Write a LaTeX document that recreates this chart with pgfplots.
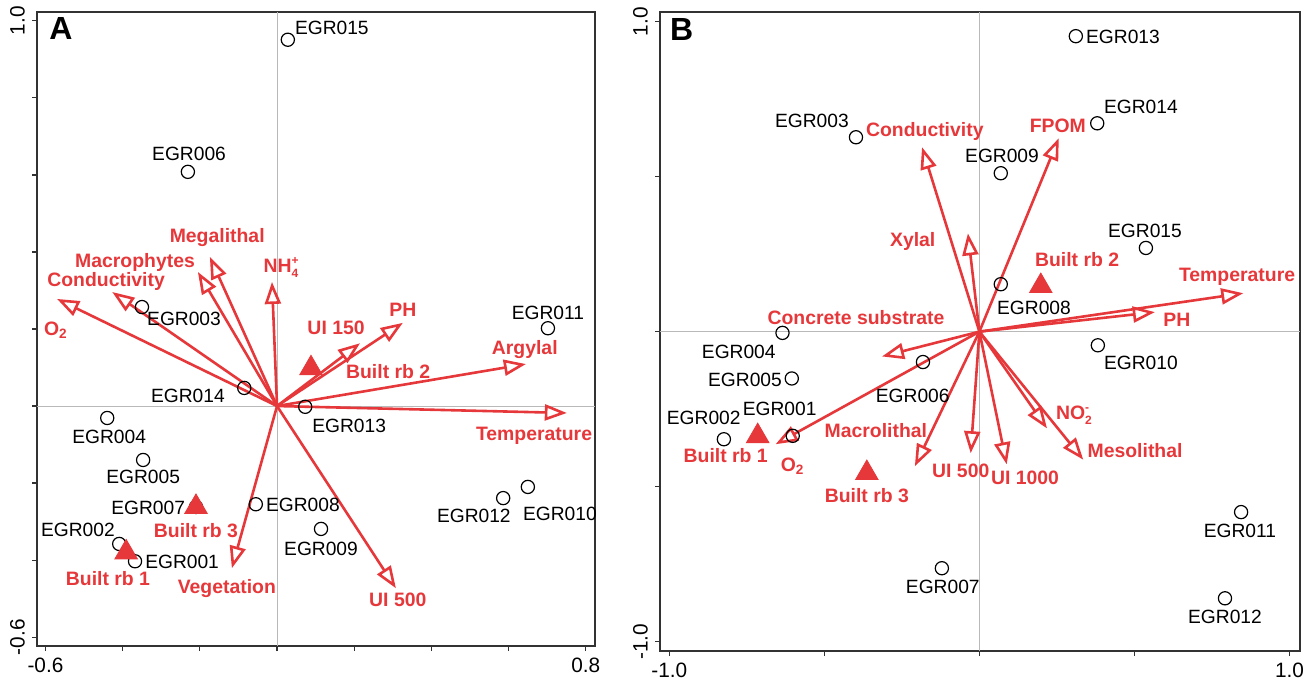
\documentclass[border=0pt]{standalone}
\usepackage{pgfplots}
\pgfplotsset{compat=1.18}
\usepackage{fontspec}
\setmainfont{Liberation Sans}
\usetikzlibrary{arrows.meta}
\definecolor{ared}{RGB}{230,56,58}
\definecolor{axgray}{RGB}{50,50,50}
\newcommand{\sitefont}{\fontsize{9.6}{11}\selectfont}
\newcommand{\varfont}{\fontsize{9.7}{11}\selectfont\bfseries}
\newcommand{\subsup}[2]{\makebox[0pt][l]{\raisebox{0.42em}{\fontsize{6}{6}\selectfont #2}}\raisebox{-0.28em}{\fontsize{6}{6}\selectfont #1}}
\pgfplotsset{
  biplot/.style={
    scale only axis,
    anchor=south west,
    clip=false,
    axis line style={axgray, line width=0.9pt},
    tick style={axgray, line width=0.6pt},
    tick align=outside,
    major tick length=2.5pt,
    xtick pos=bottom, ytick pos=left,
    ticklabel style={font=\fontsize{10.4}{12}\selectfont, text=black},
    yticklabel style={rotate=90, anchor=south},
  },
  arr/.style={ared, line width=1.3pt, mark=none, -{Triangle[open, length=11pt, width=8pt]}},
  site/.style={only marks, mark=o, mark size=3.3pt, black, mark options={line width=0.6pt}},
  built/.style={only marks, mark=triangle*, mark size=6.5pt, ared, mark options={draw=ared, fill=ared}},
}
\tikzset{
  slab/.style={font=\sitefont, text=black, inner sep=0pt, text height=0.72em, text depth=0pt},
  vlab/.style={font=\varfont, text=ared, inner sep=0pt, text height=0.72em, text depth=0pt},
}
\pgfplotstableread{
x y
0.028 0.951
-0.231 0.608
-0.350 0.257
-0.085 0.047
-0.440 -0.031
-0.347 -0.140
-0.210 -0.262
-0.409 -0.358
-0.368 -0.403
-0.055 -0.255
0.073 -0.002
0.114 -0.319
0.586 -0.239
0.650 -0.210
0.702 0.202
}\sitesA
\pgfplotstableread{
x y
0.311 0.953
0.380 0.672
0.069 0.511
0.537 0.270
0.069 0.153
-0.398 0.627
-0.635 -0.004
-0.605 -0.151
-0.182 -0.098
-0.602 -0.336
-0.824 -0.347
-0.121 -0.763
0.382 -0.044
0.844 -0.582
0.792 -0.860
}\sitesB
\begin{document}
\begin{tikzpicture}
\useasboundingbox (0,0) rectangle (654.5pt,340pt);
% ---------------- Panel A ----------------
\begin{axis}[biplot, at={(18.5pt,17pt)}, width=279pt, height=317pt,
  xmin=-0.622, xmax=0.824, ymin=-0.623, ymax=1.023,
  xtick={-0.6,-0.4,-0.2,0,0.2,0.4,0.6,0.8}, xticklabels={-0.6,,,,,,,0.8},
  ytick={-0.6,-0.4,-0.2,0,0.2,0.4,0.6,0.8,1.0}, yticklabels={-0.6,,,,,,,,1.0}]
\draw[gray!55, line width=0.5pt] (axis cs:0,-0.623) -- (axis cs:0,1.023);
\draw[gray!55, line width=0.5pt] (axis cs:-0.622,0) -- (axis cs:0.824,0);
\addplot[site] table {\sitesA};
\addplot[arr] coordinates {(0,0) (-0.570,0.278)};
\addplot[arr] coordinates {(0,0) (-0.427,0.296)};
\addplot[arr] coordinates {(0,0) (-0.205,0.348)};
\addplot[arr] coordinates {(0,0) (-0.174,0.387)};
\addplot[arr] coordinates {(0,0) (-0.013,0.322)};
\addplot[arr] coordinates {(0,0) (0.215,0.163)};
\addplot[arr] coordinates {(0,0) (0.326,0.216)};
\addplot[arr] coordinates {(0,0) (0.645,0.109)};
\addplot[arr] coordinates {(0,0) (0.751,-0.018)};
\addplot[arr] coordinates {(0,0) (0.308,-0.473)};
\addplot[arr] coordinates {(0,0) (-0.117,-0.421)};
\addplot[built] coordinates {(-0.391,-0.380) (0.088,0.098) (-0.210,-0.262)};
% site labels
\node[slab] at (axis cs:0.142,0.982) {EGR015};
\node[slab] at (axis cs:-0.228,0.655) {EGR006};
\node[slab] at (axis cs:-0.241,0.229) {EGR003};
\node[slab] at (axis cs:-0.231,0.029) {EGR014};
\node[slab] at (axis cs:-0.435,-0.078) {EGR004};
\node[slab] at (axis cs:-0.347,-0.182) {EGR005};
\node[slab] at (axis cs:-0.334,-0.262) {EGR007};
\node[slab] at (axis cs:-0.516,-0.319) {EGR002};
\node[slab] at (axis cs:-0.246,-0.403) {EGR001};
\node[slab] at (axis cs:0.067,-0.255) {EGR008};
\node[slab] at (axis cs:0.187,-0.049) {EGR013};
\node[slab] at (axis cs:0.114,-0.369) {EGR009};
\node[slab] at (axis cs:0.510,-0.283) {EGR012};
\node[slab] at (axis cs:0.733,-0.278) {EGR010};
\node[slab] at (axis cs:0.702,0.244) {EGR011};
% variable labels
\node[vlab] at (axis cs:-0.573,0.203) {O\textsubscript{2}};
\node[vlab] at (axis cs:-0.443,0.330) {Conductivity};
\node[vlab] at (axis cs:-0.368,0.379) {Macrophytes};
\node[vlab] at (axis cs:-0.155,0.442) {Megalithal};
\node[vlab] at (axis cs:0.010,0.366) {NH\subsup{4}{+}\hspace{0.6em}};
\node[vlab] at (axis cs:0.153,0.205) {UI 150};
\node[vlab] at (axis cs:0.326,0.252) {PH};
\node[vlab] at (axis cs:0.288,0.091) {Built rb 2};
\node[vlab] at (axis cs:0.642,0.153) {Argylal};
\node[vlab] at (axis cs:0.666,-0.070) {Temperature};
\node[vlab] at (axis cs:0.313,-0.501) {UI 500};
\node[vlab] at (axis cs:-0.130,-0.468) {Vegetation};
\node[vlab] at (axis cs:-0.210,-0.322) {Built rb 3};
\node[vlab] at (axis cs:-0.438,-0.447) {Built rb 1};
\node[font=\fontsize{16}{18}\selectfont\bfseries, inner sep=0pt, text height=0.72em, text depth=0pt] at (axis cs:-0.560,0.971) {A};
\end{axis}
% ---------------- Panel B ----------------
\begin{axis}[biplot, at={(330pt,14.5pt)}, width=320pt, height=319.5pt,
  xmin=-1.03, xmax=1.034, ymin=-1.03, ymax=1.031,
  xtick={-1,-0.5,0,0.5,1}, xticklabels={-1.0,,,,1.0},
  ytick={-1,-0.5,0,0.5,1}, yticklabels={-1.0,,,,1.0}]
\draw[gray!55, line width=0.5pt] (axis cs:0,-1.03) -- (axis cs:0,1.031);
\draw[gray!55, line width=0.5pt] (axis cs:-1.03,0) -- (axis cs:1.034,0);
\addplot[site] table {\sitesB};
\addplot[arr] coordinates {(0,0) (-0.185,0.595)};
\addplot[arr] coordinates {(0,0) (0.256,0.624)};
\addplot[arr] coordinates {(0,0) (-0.037,0.317)};
\addplot[arr] coordinates {(0,0) (0.851,0.124)};
\addplot[arr] coordinates {(0,0) (0.566,0.063)};
\addplot[arr] coordinates {(0,0) (-0.314,-0.080)};
\addplot[arr] coordinates {(0,0) (-0.657,-0.363)};
\addplot[arr] coordinates {(0,0) (-0.208,-0.434)};
\addplot[arr] coordinates {(0,0) (-0.028,-0.392)};
\addplot[arr] coordinates {(0,0) (0.088,-0.428)};
\addplot[arr] coordinates {(0,0) (0.218,-0.312)};
\addplot[arr] coordinates {(0,0) (0.335,-0.413)};
\addplot[built] coordinates {(-0.715,-0.337) (-0.363,-0.456) (0.198,0.147)};
% site labels
\node[slab] at (axis cs:0.463,0.953) {EGR013};
\node[slab] at (axis cs:0.521,0.727) {EGR014};
\node[slab] at (axis cs:0.073,0.569) {EGR009};
\node[slab] at (axis cs:0.534,0.327) {EGR015};
\node[slab] at (axis cs:0.176,0.079) {EGR008};
\node[slab] at (axis cs:-0.540,0.682) {EGR003};
\node[slab] at (axis cs:-0.776,-0.063) {EGR004};
\node[slab] at (axis cs:-0.756,-0.153) {EGR005};
\node[slab] at (axis cs:-0.215,-0.205) {EGR006};
\node[slab] at (axis cs:-0.644,-0.247) {EGR001};
\node[slab] at (axis cs:-0.889,-0.276) {EGR002};
\node[slab] at (axis cs:-0.118,-0.821) {EGR007};
\node[slab] at (axis cs:0.521,-0.098) {EGR010};
\node[slab] at (axis cs:0.840,-0.640) {EGR011};
\node[slab] at (axis cs:0.792,-0.918) {EGR012};
% variable labels
\node[vlab] at (axis cs:-0.176,0.653) {Conductivity};
\node[vlab] at (axis cs:0.253,0.666) {FPOM};
\node[vlab] at (axis cs:-0.215,0.298) {Xylal};
\node[vlab] at (axis cs:0.315,0.234) {Built rb 2};
\node[vlab] at (axis cs:0.831,0.185) {Temperature};
\node[vlab] at (axis cs:0.637,0.040) {PH};
\node[vlab] at (axis cs:-0.398,0.047) {Concrete substrate};
\node[vlab] at (axis cs:-0.334,-0.318) {Macrolithal};
\node[vlab] at (axis cs:-0.602,-0.427) {O\textsubscript{2}};
\node[vlab] at (axis cs:-0.818,-0.398) {Built rb 1};
\node[vlab] at (axis cs:-0.363,-0.527) {Built rb 3};
\node[vlab] at (axis cs:-0.060,-0.447) {UI 500};
\node[vlab] at (axis cs:0.147,-0.469) {UI 1000};
\node[vlab] at (axis cs:0.305,-0.260) {NO\subsup{2}{-}\hspace{0.6em}};
\node[vlab] at (axis cs:0.502,-0.382) {Mesolithal};
\node[font=\fontsize{16}{18}\selectfont\bfseries, inner sep=0pt, text height=0.72em, text depth=0pt] at (axis cs:-0.960,0.963) {B};
\end{axis}
\end{tikzpicture}
\end{document}
